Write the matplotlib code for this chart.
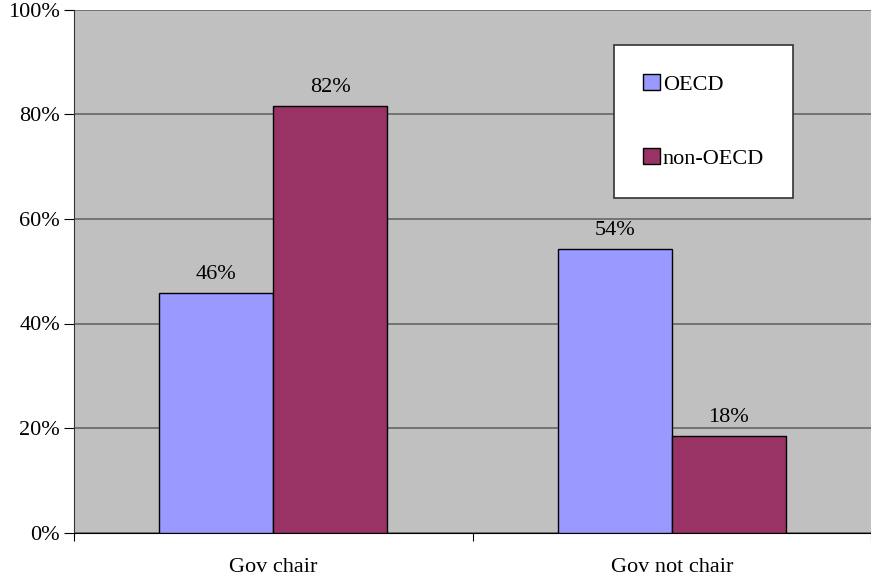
import matplotlib
matplotlib.use("Agg")
import matplotlib.pyplot as plt
import numpy as np

categories = ["Gov chair", "Gov not chair"]
series_names = ["OECD", "non-OECD"]
oecd = [45.8, 54.2]
non_oecd = [81.6, 18.4]
labels_oecd = ["46%", "54%"]
labels_non = ["82%", "18%"]
y_ticks = [0, 20, 40, 60, 80, 100]

plt.rcParams["font.family"] = ["Liberation Serif", "DejaVu Serif"]
FS = 16

fig = plt.figure(figsize=(8.71, 5.80), dpi=100)
ax = fig.add_axes([74 / 871, 1 - 532.5 / 580, 797 / 871, 522.5 / 580])
ax.set_facecolor("#C0C0C0")

x = np.arange(len(categories))
w = 0.286
b1 = ax.bar(x - w / 2, oecd, w, color="#9999FF", edgecolor="black", linewidth=1, label=series_names[0], zorder=3)
b2 = ax.bar(x + w / 2, non_oecd, w, color="#993366", edgecolor="black", linewidth=1, label=series_names[1], zorder=3)

for rect, lab in zip(b1, labels_oecd):
    ax.text(rect.get_x() + rect.get_width() / 2, rect.get_height() + 1.8, lab,
            ha="center", va="bottom", fontsize=FS)
for rect, lab in zip(b2, labels_non):
    ax.text(rect.get_x() + rect.get_width() / 2, rect.get_height() + 1.8, lab,
            ha="center", va="bottom", fontsize=FS)

ax.set_xlim(-0.5, 1.5)
ax.set_ylim(0, 100)
ax.set_yticks(y_ticks)
ax.set_yticklabels([f"{t}%" for t in y_ticks], fontsize=FS)
ax.yaxis.grid(True, color="#666666", linewidth=1.2, zorder=0)
ax.set_axisbelow(True)

ax.set_xticks([-0.5, 0.5, 1.5])
ax.set_xticklabels([])
ax.set_xticks(x, minor=True)
ax.set_xticklabels(categories, minor=True, fontsize=FS)
ax.tick_params(axis="x", which="minor", length=0, pad=18)
ax.tick_params(axis="x", which="major", length=6, direction="out", color="black")
ax.tick_params(axis="y", length=7, direction="out", color="black", pad=3)

for s in ["top", "right"]:
    ax.spines[s].set_visible(False)
ax.spines["left"].set_color("#333333")
ax.spines["bottom"].set_color("black")

leg = ax.legend(loc="upper left", bbox_to_anchor=((614 - 74) / 797, (532.5 - 45) / 522.5),
                frameon=True, fancybox=False, fontsize=FS, handlelength=0.75, handleheight=0.75,
                handletextpad=0.15, labelspacing=2.4, borderpad=1.3, borderaxespad=0)
leg.get_frame().set_edgecolor("#333333")
leg.get_frame().set_linewidth(1.2)
leg.get_frame().set_facecolor("white")
leg.get_frame().set_alpha(1)

fig.savefig("out.png", dpi=100)
